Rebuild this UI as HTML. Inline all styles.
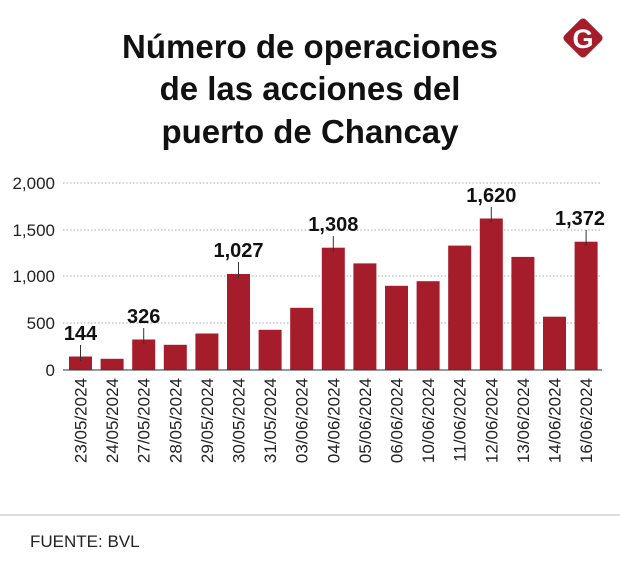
<!DOCTYPE html><html><head><meta charset="utf-8"><style>body{margin:0;background:#fff;width:620px;height:583px;overflow:hidden;font-family:"Liberation Sans",sans-serif}</style></head><body>
<svg width="620" height="583" xmlns="http://www.w3.org/2000/svg" font-family="Liberation Sans, sans-serif">
<g font-weight="bold" font-size="33" text-anchor="middle" fill="#111">
<text x="310" y="58">Número de operaciones</text>
<text x="310" y="100">de las acciones del</text>
<text x="310" y="143">puerto de Chancay</text>
</g>
<g transform="translate(583,38) rotate(45)"><rect x="-15" y="-15" width="30" height="30" rx="4" fill="#a51c2a"/></g>
<text x="583" y="48" font-size="27" font-weight="bold" fill="#fff" text-anchor="middle">G</text>
<g stroke="#aaa" stroke-dasharray="1.5,2" stroke-width="1">
<line x1="63" x2="602" y1="183" y2="183"/><line x1="63" x2="602" y1="230" y2="230"/><line x1="63" x2="602" y1="276" y2="276"/><line x1="63" x2="602" y1="323" y2="323"/></g>
<g font-size="17" fill="#222" text-anchor="end">
<text x="55" y="189">2,000</text><text x="55" y="236">1,500</text><text x="55" y="282">1,000</text><text x="55" y="329">500</text><text x="55" y="376">0</text></g>
<g fill="#a51c2a">
<rect x="69" y="356.5" width="23" height="13.5"/>
<rect x="100.6" y="358.8" width="23" height="11.2"/>
<rect x="132.2" y="339.5" width="23" height="30.5"/>
<rect x="163.8" y="344.8" width="23" height="25.2"/>
<rect x="195.4" y="333.5" width="23" height="36.5"/>
<rect x="227" y="274" width="23" height="96"/>
<rect x="258.6" y="329.8" width="23" height="40.2"/>
<rect x="290.2" y="307.8" width="23" height="62.2"/>
<rect x="321.8" y="247.7" width="23" height="122.3"/>
<rect x="353.4" y="263.4" width="23" height="106.6"/>
<rect x="385" y="285.8" width="23" height="84.2"/>
<rect x="416.6" y="281.2" width="23" height="88.8"/>
<rect x="448.2" y="245.6" width="23" height="124.4"/>
<rect x="479.8" y="218.5" width="23" height="151.5"/>
<rect x="511.4" y="256.9" width="23" height="113.1"/>
<rect x="543" y="316.7" width="23" height="53.3"/>
<rect x="574.6" y="241.7" width="23" height="128.3"/>
</g>
<line x1="63" x2="602" y1="370" y2="370" stroke="#333"/>
<g font-size="17" fill="#222" text-anchor="end">
<text transform="translate(86.5,378) rotate(-90)">23/05/2024</text>
<text transform="translate(118.1,378) rotate(-90)">24/05/2024</text>
<text transform="translate(149.7,378) rotate(-90)">27/05/2024</text>
<text transform="translate(181.3,378) rotate(-90)">28/05/2024</text>
<text transform="translate(212.9,378) rotate(-90)">29/05/2024</text>
<text transform="translate(244.5,378) rotate(-90)">30/05/2024</text>
<text transform="translate(276.1,378) rotate(-90)">31/05/2024</text>
<text transform="translate(307.7,378) rotate(-90)">03/06/2024</text>
<text transform="translate(339.3,378) rotate(-90)">04/06/2024</text>
<text transform="translate(370.9,378) rotate(-90)">05/06/2024</text>
<text transform="translate(402.5,378) rotate(-90)">06/06/2024</text>
<text transform="translate(434.1,378) rotate(-90)">10/06/2024</text>
<text transform="translate(465.7,378) rotate(-90)">11/06/2024</text>
<text transform="translate(497.3,378) rotate(-90)">12/06/2024</text>
<text transform="translate(528.9,378) rotate(-90)">13/06/2024</text>
<text transform="translate(560.5,378) rotate(-90)">14/06/2024</text>
<text transform="translate(592.1,378) rotate(-90)">16/06/2024</text>
</g>
<g font-size="20" font-weight="bold" fill="#111" text-anchor="middle">
<text x="80.5" y="340">144</text>
<text x="143.7" y="323">326</text>
<text x="238.5" y="257">1,027</text>
<text x="333.3" y="231">1,308</text>
<text x="491.3" y="202">1,620</text>
<text x="580" y="225">1,372</text>
</g>
<g stroke="#333">
<line x1="80.5" x2="80.5" y1="345" y2="361"/>
<line x1="143.7" x2="143.7" y1="328" y2="344"/>
<line x1="238.5" x2="238.5" y1="262" y2="278"/>
<line x1="333.3" x2="333.3" y1="236" y2="252"/>
<line x1="491.3" x2="491.3" y1="207" y2="223"/>
<line x1="586.1" x2="586.1" y1="230" y2="246"/>
</g>
<line x1="0" x2="620" y1="515" y2="515" stroke="#bbb"/>
<text x="30" y="547" font-size="17" fill="#222">FUENTE: BVL</text>
</svg></body></html>
